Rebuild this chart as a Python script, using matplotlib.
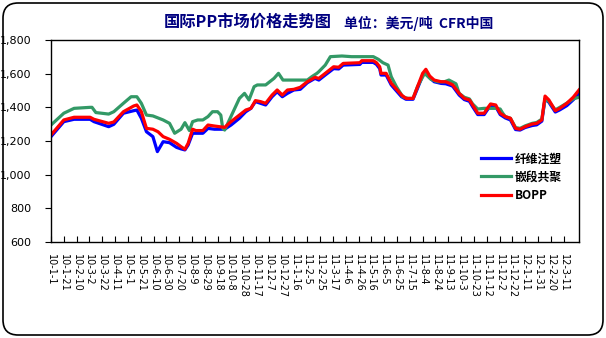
import matplotlib
matplotlib.use("Agg")
import matplotlib.pyplot as plt
from matplotlib.patches import FancyBboxPatch

plt.rcParams['font.family'] = ['Noto Sans CJK SC', 'DejaVu Sans']

# days since 2010-01-01
blue_days = [0, 20, 36, 61, 67, 90, 98, 113, 129, 134, 141, 149, 159, 166, 175, 185, 196, 203,
             209, 214, 221, 237, 245, 255, 271, 281, 294, 304, 312, 319, 327, 335, 345, 353,
             361, 369, 379, 389, 400, 412, 418, 428, 441, 449, 456, 482, 485, 503, 508, 513,
             515, 523, 531, 547, 554, 565, 572, 580, 585, 591, 598, 609, 616, 624, 627, 637,
             645, 653, 658, 666, 676, 681, 686, 694, 701, 709, 717, 725, 732, 740, 751, 758,
             766, 771, 777, 787, 794, 805, 815, 824]
blue_vals = [1226, 1315, 1329, 1329, 1315, 1285, 1299, 1365, 1380, 1384, 1335, 1255, 1226, 1137,
             1196, 1190, 1162, 1153, 1147, 1176, 1246, 1246, 1275, 1270, 1270, 1295, 1335, 1374,
             1394, 1434, 1424, 1414, 1463, 1493, 1463, 1483, 1503, 1507, 1546, 1572, 1562, 1592,
             1630, 1628, 1651, 1655, 1667, 1667, 1655, 1630, 1592, 1592, 1533, 1463, 1448, 1448,
             1513, 1590, 1612, 1576, 1552, 1542, 1540, 1530, 1525, 1473, 1446, 1436, 1404, 1357,
             1357, 1385, 1410, 1405, 1357, 1337, 1325, 1268, 1265, 1280, 1292, 1296, 1318, 1450,
             1430, 1372, 1385, 1410, 1445, 1483]

red_days = [0, 20, 36, 61, 67, 90, 98, 113, 129, 134, 141, 149, 159, 167, 175, 185, 196, 203,
            209, 214, 221, 226, 237, 245, 255, 271, 281, 294, 304, 312, 319, 327, 335, 345, 353,
            361, 369, 379, 389, 400, 412, 418, 428, 441, 449, 456, 482, 485, 503, 508, 513, 515,
            523, 531, 547, 554, 565, 572, 580, 585, 591, 598, 609, 616, 624, 627, 637, 645, 653,
            658, 666, 676, 681, 686, 694, 701, 709, 717, 725, 732, 740, 751, 758, 766, 771, 777,
            787, 794, 805, 815, 824]
red_vals = [1236, 1325, 1341, 1341, 1329, 1305, 1313, 1374, 1408, 1414, 1374, 1275, 1270, 1255,
            1226, 1210, 1186, 1166, 1151, 1186, 1270, 1262, 1262, 1295, 1289, 1281, 1315, 1354,
            1384, 1394, 1440, 1434, 1424, 1473, 1503, 1473, 1503, 1507, 1519, 1552, 1578, 1572,
            1602, 1641, 1638, 1661, 1665, 1677, 1677, 1665, 1641, 1602, 1602, 1543, 1473, 1453,
            1453, 1523, 1602, 1626, 1586, 1562, 1552, 1552, 1539, 1533, 1483, 1453, 1444, 1414,
            1365, 1365, 1394, 1420, 1414, 1365, 1345, 1335, 1275, 1270, 1285, 1301, 1305, 1325,
            1467, 1444, 1380, 1394, 1424, 1460, 1503]

green_days = [0, 20, 36, 61, 64, 70, 90, 98, 113, 125, 134, 141, 149, 159, 175, 185, 193, 203,
              209, 216, 221, 229, 237, 245, 252, 260, 265, 268, 271, 294, 302, 309, 317, 322, 335,
              348, 355, 362, 400, 407, 415, 418, 428, 436, 454, 469, 503, 511, 518, 526, 531, 539,
              549, 557, 565, 572, 583, 593, 603, 614, 621, 632, 637, 645, 653, 658, 666, 676, 686,
              694, 701, 705, 709, 717, 725, 732, 740, 751, 758, 766, 771, 777, 787, 794, 805, 815,
              824]
green_vals = [1295, 1365, 1394, 1400, 1400, 1369, 1360, 1374, 1424, 1463, 1463, 1424, 1354, 1349,
              1325, 1305, 1246, 1270, 1309, 1262, 1315, 1325, 1325, 1345, 1374, 1374, 1354, 1275,
              1265, 1453, 1483, 1444, 1523, 1533, 1533, 1572, 1602, 1562, 1562, 1582, 1602, 1612,
              1651, 1701, 1705, 1701, 1701, 1685, 1665, 1651, 1582, 1523, 1463, 1453, 1453, 1523,
              1602, 1566, 1552, 1552, 1562, 1540, 1483, 1460, 1450, 1420, 1390, 1394, 1394, 1394,
              1390, 1365, 1345, 1335, 1280, 1275, 1290, 1305, 1310, 1330, 1450, 1435, 1385, 1400,
              1425, 1450, 1460]

tick_labels = ["10-1-1", "10-1-21", "10-2-10", "10-3-2", "10-3-22", "10-4-11", "10-5-1",
               "10-5-21", "10-6-10", "10-6-30", "10-7-20", "10-8-9", "10-8-29", "10-9-18",
               "10-10-8", "10-10-28", "10-11-17", "10-12-7", "10-12-27", "11-1-16", "11-2-5",
               "11-2-25", "11-3-17", "11-4-6", "11-4-26", "11-5-16", "11-6-5", "11-6-25",
               "11-7-15", "11-8-4", "11-8-24", "11-9-13", "11-10-3", "11-10-23", "11-11-12",
               "11-12-2", "11-12-22", "12-1-11", "12-1-31", "12-2-20", "12-3-11"]
tick_days = [i * 20 for i in range(len(tick_labels))]

fig = plt.figure(figsize=(6.06, 3.38), dpi=100, facecolor='white')
ax = fig.add_axes([51/606, 1 - 242/338, 528/606, 202/338])

ax.plot(blue_days, blue_vals, color='#0000FF', linewidth=2.3, label='纤维注塑')
ax.plot(green_days, green_vals, color='#339966', linewidth=2.3, label='嵌段共聚')
ax.plot(red_days, red_vals, color='#FF0000', linewidth=2.3, label='BOPP')

ax.set_xlim(0, 824)
ax.set_ylim(600, 1800)
ax.set_yticks(range(600, 1801, 200))
ax.set_yticklabels([f"{v:,}" for v in range(600, 1801, 200)], fontsize=8, family='DejaVu Sans')
ax.set_xticks(tick_days)
ax.set_xticklabels(tick_labels, rotation=-90, fontsize=7, family='DejaVu Sans')
ax.tick_params(axis='x', direction='in', length=4, width=0.8, pad=9)
ax.tick_params(axis='y', direction='out', length=4, width=0.8, pad=10)
for s in ax.spines.values():
    s.set_linewidth(1)
ax.grid(False)

leg = ax.legend(loc=(0.805, 0.175), frameon=False, handlelength=2.6, labelspacing=0.45,
                handletextpad=0.3, prop={'size': 8.5, 'weight': 'bold'})

fig.text(0.271, 0.935, '国际PP市场价格走势图', fontsize=11.7, fontweight='bold', color='#000080',
         ha='left', va='center')
fig.text(0.568, 0.932, '单位：美元/吨  CFR中国', fontsize=10, fontweight='bold', color='#000080',
         ha='left', va='center')

border = FancyBboxPatch((3/606, 3/338), 600/606, 332/338, transform=fig.transFigure,
                        boxstyle="round,pad=0,rounding_size=0.025", mutation_aspect=606/338,
                        facecolor='none', edgecolor='black', linewidth=1.2)
fig.patches.append(border)

fig.savefig('out.png', dpi=100, facecolor='white')
